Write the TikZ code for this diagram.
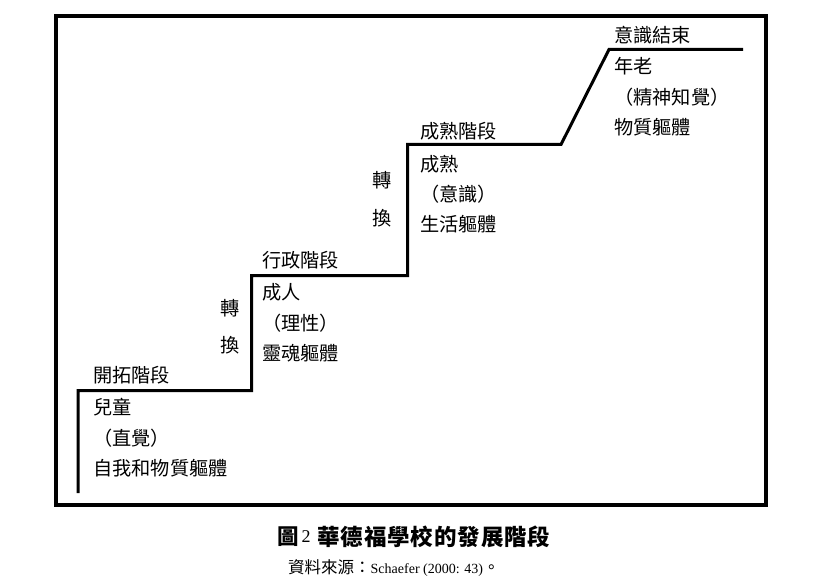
\documentclass[tikz,border=0pt]{standalone}
\usepackage{fontspec}
\setmainfont{Liberation Serif}
\newfontfamily\cjk{Noto Sans CJK TC}
\newfontfamily\cjkcap[LetterSpace=4]{Noto Sans CJK TC}
\tikzset{
  lbl/.style={anchor=west, inner sep=0pt, font=\cjk\fontsize{19.2}{19.2}\selectfont},
  frame/.style={line width=4pt},
  stair/.style={line width=3pt, line join=miter},
}
\begin{document}
\begin{tikzpicture}[x=1pt,y=-1pt]
\useasboundingbox (0,0) rectangle (813,588);
\draw[frame] (55.5,16.5) rectangle (766,505);
% staircase
\coordinate (s0) at (78,493);
\coordinate (s1) at (78,390.5);
\coordinate (s2) at (251.5,390.5);
\coordinate (s3) at (251.5,275.5);
\coordinate (s4) at (407.5,275.5);
\coordinate (s5) at (407.5,144.5);
\coordinate (s6) at (561,144.5);
\coordinate (s7) at (609,49.5);
\coordinate (s8) at (743,49.5);
\draw[stair] (s0) -- (s1) -- (s2) -- (s3) -- (s4) -- (s5) -- (s6) -- (s7) -- (s8);
% stage 1
\node[lbl] (a0) at (93,375) {開拓階段};
\node[lbl] (a1) at (93,407) {兒童};
\node[lbl] (a2) at (93,438) {（直覺）};
\node[lbl] (a3) at (93,468) {自我和物質軀體};
% transition 1
\node[lbl] (t1) at (220,308) {轉};
\node[lbl] (t2) at (220,345) {換};
% stage 2
\node[lbl] (b0) at (262,260) {行政階段};
\node[lbl] (b1) at (262,292) {成人};
\node[lbl] (b2) at (262,323) {（理性）};
\node[lbl] (b3) at (262,353) {靈魂軀體};
% transition 2
\node[lbl] (t3) at (372,180) {轉};
\node[lbl] (t4) at (372,218) {換};
% stage 3
\node[lbl] (c0) at (420,131) {成熟階段};
\node[lbl] (c1) at (420,164) {成熟};
\node[lbl] (c2) at (420,194) {（意識）};
\node[lbl] (c3) at (420,224) {生活軀體};
% stage 4
\node[lbl] (d0) at (614,35) {意識結束};
\node[lbl] (d1) at (614,66) {年老};
\node[lbl] (d2) at (614,97) {（精神知覺）};
\node[lbl] (d3) at (614,127) {物質軀體};
% caption
\node[inner sep=0pt, anchor=west, font=\cjk\bfseries\fontsize{21.5}{21.5}\selectfont] (cap1) at (277,537) {圖};
\node[inner sep=0pt, anchor=west, font=\fontsize{18}{18}\selectfont] (cap2) at (301.5,537) {2};
\node[inner sep=0pt, anchor=west, font=\cjkcap\bfseries\fontsize{22.5}{22.5}\selectfont] (cap3) at (317,537) {華德福學校的發展階段};
\node[inner sep=0pt, anchor=west, font=\fontsize{14}{14}\selectfont] (src) at (288,568) {{\cjk\fontsize{16.5}{16.5}\selectfont 資料來源：}Schaefer (2000: 43){\cjk\fontsize{16.5}{16.5}\selectfont 。}};
\end{tikzpicture}
\end{document}
